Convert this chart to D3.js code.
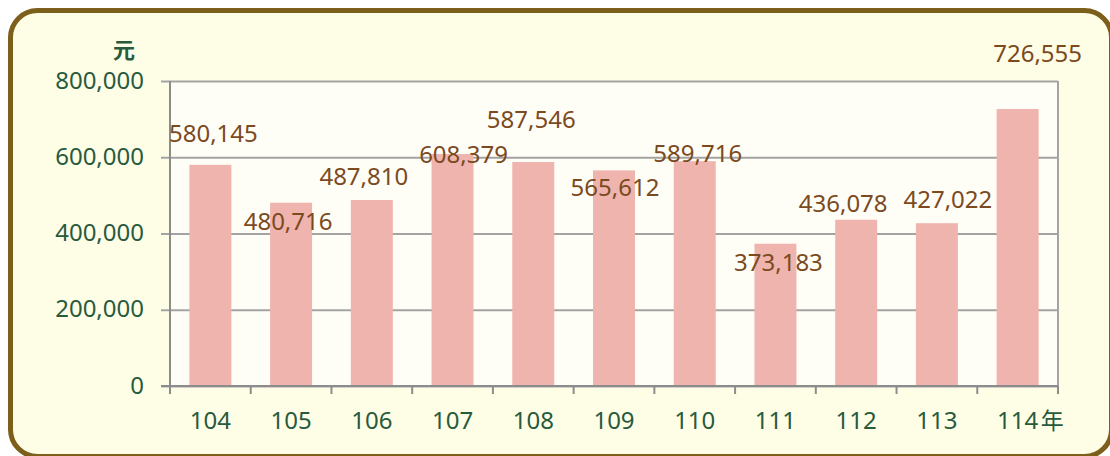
<!DOCTYPE html>
<html><head><meta charset="utf-8">
<script src="https://cdn.jsdelivr.net/npm/d3@7"></script>
<style>
html,body{margin:0;padding:0;background:#fff;}
svg{display:block;}
text{font-family:"Noto Sans","Noto Sans CJK TC",sans-serif;}
</style></head>
<body>
<svg id="c" width="1110" height="456"></svg>
<script>
// ---- data ----
const categories = ["104","105","106","107","108","109","110","111","112","113","114"];
const values = [580145, 480716, 487810, 608379, 587546, 565612, 589716, 373183, 436078, 427022, 726555];
const yTicks = [0, 200000, 400000, 600000, 800000];
const yUnit = "元";
const xUnit = "年";

// ---- layout ----
const svg = d3.select("#c");
const L = 170, R = 1058, T = 81, B = 386;
// manual label placement (dx px from bar centre, dy px from bar top to baseline)
const labelNudge = [[3,-23],[-3,27],[-8,-15],[11,9],[-2,-34],[1,26],[3,1],[3,27],[-13,-8],[11,-15],[20,-47]];

svg.append("rect").attr("x",10.5).attr("y",10.5).attr("width",1101).attr("height",446)
  .attr("rx",27).attr("fill","#fefee7").attr("stroke","#7d5f1c").attr("stroke-width",5);

const x = d3.scaleBand().domain(categories).range([L,R]).paddingInner(0.48).paddingOuter(0.24);
const y = d3.scaleLinear().domain([0,800000]).range([B,T]);

svg.append("rect").attr("x",L).attr("y",T).attr("width",R-L).attr("height",B-T).attr("fill","#fffef6");

// gridlines + y axis
const yAxis = d3.axisLeft(y).tickValues(yTicks).tickSize(-(R-L)).tickFormat(d3.format(","));
const gy = svg.append("g").attr("transform",`translate(${L},0)`).call(yAxis);
gy.select(".domain").remove();
gy.selectAll(".tick line").attr("stroke","#a3a3a3").attr("stroke-width",2).attr("x1",-9);
gy.selectAll(".tick text").attr("x",-26).attr("dy","0.30em").attr("fill","#285a3e").attr("font-size",24);

// right border
svg.append("line").attr("x1",R).attr("x2",R).attr("y1",T).attr("y2",B+8).attr("stroke","#a3a3a3").attr("stroke-width",2);

// bars
svg.append("g").selectAll("rect").data(values).join("rect")
  .attr("x",(d,i)=>x(categories[i])).attr("width",x.bandwidth())
  .attr("y",d=>y(d)).attr("height",d=>y(0)-y(d)).attr("fill","#f0b4ae");

// x axis
const gx = svg.append("g").attr("transform",`translate(0,${B})`)
  .call(d3.axisBottom(x).tickSize(0).tickPadding(0));
gx.select(".domain").remove();
gx.selectAll(".tick text").attr("y",43).attr("dy",0).attr("fill","#285a3e").attr("font-size",24);
// boundary ticks
const step = x.step();
svg.append("g").selectAll("line").data(d3.range(categories.length+1)).join("line")
  .attr("x1",i=>L+i*step).attr("x2",i=>L+i*step).attr("y1",B).attr("y2",B+8)
  .attr("stroke","#8c8c8c").attr("stroke-width",2);
// axis lines
svg.append("line").attr("x1",L).attr("x2",L).attr("y1",T).attr("y2",B+8).attr("stroke","#8c8c8c").attr("stroke-width",2);
svg.append("line").attr("x1",L-9).attr("x2",R).attr("y1",B).attr("y2",B).attr("stroke","#8c8c8c").attr("stroke-width",2);

// units
svg.append("text").attr("x",124).attr("y",58).attr("text-anchor","middle").attr("fill","#285a3e")
  .attr("font-size",22).attr("font-weight","bold").text(yUnit);
const last = categories[categories.length-1];
svg.append("text").attr("x",x(last)+x.bandwidth()/2+23).attr("y",B+43).attr("fill","#285a3e")
  .attr("font-size",23).text(xUnit);

// data labels
svg.append("g").selectAll("text").data(values).join("text")
  .attr("x",(d,i)=>x(categories[i])+x.bandwidth()/2+labelNudge[i][0])
  .attr("y",(d,i)=>y(d)+labelNudge[i][1])
  .attr("text-anchor","middle").attr("fill","#7b4a1f").attr("font-size",24)
  .text(d=>d3.format(",")(d));
</script>
</body></html>
